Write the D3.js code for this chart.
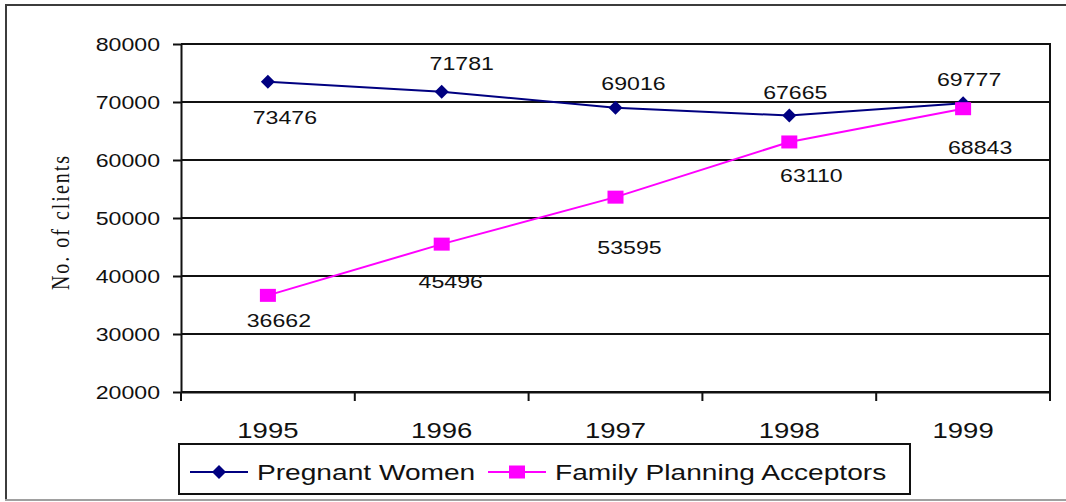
<!DOCTYPE html>
<html>
<head>
<meta charset="utf-8">
<script src="https://cdn.jsdelivr.net/npm/d3@7"></script>
<style>
    body { margin: 0; background: #fff; }
    svg text { font-family: "Liberation Sans", Arial, sans-serif; fill: #111; }
</style>
</head>
<body>
<div id="chart"></div>
<script>
// data
var years = ["1995", "1996", "1997", "1998", "1999"];
var pregnantWomen = [73476, 71781, 69016, 67665, 69777];
var fpAcceptors = [36662, 45496, 53595, 63110, 68843];
var yTicks = [20000, 30000, 40000, 50000, 60000, 70000, 80000];
var seriesNames = ["Pregnant Women", "Family Planning Acceptors"];

// hand-placed label offsets (px from the point), like the excel original
var pwLabelOffset = [[17, 42], [20, -22], [18, -18], [6, -17], [6, -17]];
var fpLabelOffset = [[11, 32], [9, 44], [14, 57], [22, 40], [17, 45]];

var W = 1066, H = 502;
var plot = {left: 181, right: 1050, top: 44, bottom: 392};
var SX = 1.25; // text in the picture is stretched horizontally

var svg = d3.select("#chart").append("svg")
    .attr("width", W)
    .attr("height", H);

// outer frame
svg.append("line").attr("x1", 6).attr("x2", W).attr("y1", 5).attr("y2", 5)
    .attr("stroke", "#3c3c3c").attr("stroke-width", 2);
svg.append("line").attr("x1", 6).attr("x2", 6).attr("y1", 4).attr("y2", 500)
    .attr("stroke", "#3c3c3c").attr("stroke-width", 2);
svg.append("line").attr("x1", 5).attr("x2", W).attr("y1", 500).attr("y2", 500)
    .attr("stroke", "#a0a0a0").attr("stroke-width", 2);

var x = d3.scaleBand().domain(years).range([plot.left, plot.right]);
var y = d3.scaleLinear().domain([20000, 80000]).range([plot.bottom, plot.top]);
var cx = function (d, i) { return x(years[i]) + x.bandwidth() / 2; };

function stretchText(sel, dx, dy) {
    sel.attr("x", 0).attr("y", 0).attr("dy", null)
        .attr("transform", "translate(" + dx + "," + dy + ") scale(" + SX + ",1)");
}

// gridlines
svg.append("g").selectAll("line")
    .data(yTicks)
    .enter().append("line")
    .attr("x1", plot.left).attr("x2", plot.right)
    .attr("y1", function (d) { return y(d); })
    .attr("y2", function (d) { return y(d); })
    .attr("stroke", "#111").attr("stroke-width", 2);

// right border of plot
svg.append("line")
    .attr("x1", plot.right).attr("x2", plot.right)
    .attr("y1", plot.top - 1).attr("y2", plot.bottom + 1)
    .attr("stroke", "#111").attr("stroke-width", 2);

// y axis
var yAxis = svg.append("g")
    .attr("transform", "translate(" + plot.left + ",0)")
    .call(d3.axisLeft(y).tickValues(yTicks).tickSize(8).tickSizeOuter(0).tickFormat(d3.format("d")));
yAxis.select(".domain").attr("stroke", "#111").attr("stroke-width", 2);
yAxis.selectAll(".tick line").attr("stroke", "#111").attr("stroke-width", 2);
yAxis.selectAll(".tick text")
    .style("font-size", "18.5px")
    .attr("fill", "#222")
    .each(function () { stretchText(d3.select(this), -21, 6.5); });

// x axis : ticks on category boundaries, labels on centres
var xAxis = svg.append("g")
    .attr("transform", "translate(0," + plot.bottom + ")")
    .call(d3.axisBottom(x).tickSize(0).tickSizeOuter(0));
xAxis.select(".domain").attr("stroke", "#111").attr("stroke-width", 2);
xAxis.selectAll(".tick text")
    .style("font-size", "22px")
    .attr("fill", "#222")
    .each(function () { stretchText(d3.select(this), 0, 46); });

var bounds = d3.range(years.length + 1).map(function (i) { return plot.left + i * x.step(); });
svg.append("g").selectAll("line")
    .data(bounds)
    .enter().append("line")
    .attr("x1", function (d) { return d; }).attr("x2", function (d) { return d; })
    .attr("y1", plot.bottom).attr("y2", plot.bottom + 9)
    .attr("stroke", "#111").attr("stroke-width", 2);

// y axis title
svg.append("text")
    .attr("transform", "translate(69,222) scale(" + SX + ",1) rotate(-90)")
    .attr("text-anchor", "middle")
    .style("font-family", "'Liberation Serif', 'Times New Roman', serif")
    .style("font-size", "20px")
    .style("letter-spacing", "2px")
    .attr("fill", "#222")
    .text("No. of clients");

// series
var line = d3.line()
    .x(cx)
    .y(function (d) { return y(d); });

svg.append("path")
    .datum(fpAcceptors)
    .attr("fill", "none")
    .attr("stroke", "#ff00ff")
    .attr("stroke-width", 2)
    .attr("d", line);

svg.append("path")
    .datum(pregnantWomen)
    .attr("fill", "none")
    .attr("stroke", "#000080")
    .attr("stroke-width", 2)
    .attr("d", line);

var diamond = "M0,-7L7,0L0,7L-7,0Z";

svg.append("g").selectAll("path")
    .data(pregnantWomen)
    .enter().append("path")
    .attr("d", diamond)
    .attr("fill", "#000080")
    .attr("transform", function (d, i) { return "translate(" + cx(d, i) + "," + y(d) + ")"; });

svg.append("g").selectAll("rect")
    .data(fpAcceptors)
    .enter().append("rect")
    .attr("x", function (d, i) { return cx(d, i) - 8; })
    .attr("y", function (d) { return y(d) - 6.5; })
    .attr("width", 16).attr("height", 13)
    .attr("fill", "#ff00ff");

// data labels
function addLabels(values, offsets) {
    svg.append("g").selectAll("text")
        .data(values)
        .enter().append("text")
        .attr("text-anchor", "middle")
        .style("font-size", "18.5px")
        .attr("fill", "#222")
        .attr("transform", function (d, i) {
            return "translate(" + (cx(d, i) + offsets[i][0]) + "," + (y(d) + offsets[i][1]) + ") scale(" + SX + ",1)";
        })
        .text(function (d) { return d; });
}
addLabels(pregnantWomen, pwLabelOffset);
addLabels(fpAcceptors, fpLabelOffset);

// legend
var legend = svg.append("g");
legend.append("rect")
    .attr("x", 179).attr("y", 444)
    .attr("width", 731).attr("height", 50)
    .attr("fill", "#fff")
    .attr("stroke", "#111").attr("stroke-width", 2);

var legendItems = [
    {name: seriesNames[0], color: "#000080", x: 190, shape: "diamond"},
    {name: seriesNames[1], color: "#ff00ff", x: 488, shape: "square"}
];
legendItems.forEach(function (it) {
    var g = legend.append("g").attr("transform", "translate(" + it.x + ",472)");
    g.append("line").attr("x1", 0).attr("x2", 58)
        .attr("stroke", it.color).attr("stroke-width", 2);
    if (it.shape === "diamond") {
        g.append("path").attr("d", diamond).attr("transform", "translate(29,0)").attr("fill", it.color);
    } else {
        g.append("rect").attr("x", 21).attr("y", -6.5).attr("width", 16).attr("height", 13).attr("fill", it.color);
    }
    g.append("text")
        .attr("transform", "translate(67,8) scale(" + SX + ",1)")
        .style("font-size", "22.5px")
        .attr("fill", "#222")
        .text(it.name);
});
</script>
</body>
</html>
